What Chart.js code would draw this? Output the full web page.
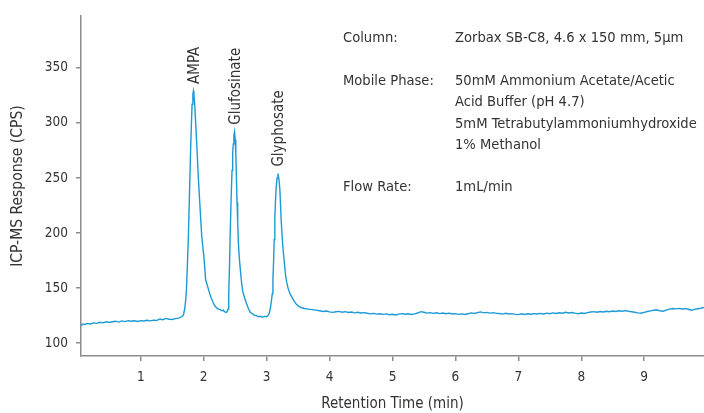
<!DOCTYPE html>
<html>
<head>
<meta charset="utf-8">
<script src="https://cdn.jsdelivr.net/npm/chart.js@4/dist/chart.umd.min.js"></script>
<style>
  html, body { margin: 0; padding: 0; background: #fff; }
  #wrap { width: 704px; height: 413px; position: relative; }
</style>
</head>
<body>
<div id="wrap"><canvas id="chromatogram"></canvas></div>
<script>
/* ================= DATA ================= */
// [retention time (min), response (CPS)]
const baselineStart = [
  [0.05,116],[0.08,117.5],[0.11,117],[0.15,118],[0.2,117.5],[0.25,118.5],[0.3,118],
  [0.35,119],[0.4,118.5],[0.45,119.5],[0.5,118.8],[0.55,119.5],[0.6,120],[0.65,119.2],
  [0.7,120.3],[0.75,119.6],[0.8,120.5],[0.85,120],[0.9,120.4],[0.95,119.8],[1.0,120.5],
  [1.05,120.2],[1.1,120.8],[1.15,120.3],[1.2,121],[1.25,120.6],[1.3,122],[1.35,121.3],
  [1.4,122.5],[1.45,121.8],[1.5,121.5],[1.55,122.3],[1.6,122.8],[1.65,124],[1.68,126]
];

const ampaPeak = [
  [1.70,132],[1.715,140],[1.725,148],[1.74,170],[1.757,198],[1.775,238],[1.79,272],
  [1.805,300],[1.815,317],[1.828,326],[1.836,329],[1.845,325],[1.857,317],[1.875,297],
  [1.894,275],[1.915,250],[1.937,228],[1.953,212],[1.968,198],[1.985,188],[2.0,180],
  [2.015,170],[2.03,158],[2.05,154],[2.07,150],[2.095,145],[2.12,141],[2.15,137],
  [2.175,134],[2.2,132.5],[2.23,131],[2.26,130.5],[2.29,129.5],[2.31,130],[2.335,128.5],
  [2.36,128],[2.375,129],[2.386,131]
];

const glufosinatePeak = [
  [2.395,138],[2.40,145],[2.41,170],[2.42,198],[2.435,230],[2.45,257],[2.46,272],
  [2.47,281],[2.48,289],[2.49,292],[2.50,285],[2.51,272],[2.52,250],[2.53,228],
  [2.54,210],[2.55,192],[2.565,178],[2.58,168],[2.60,156],[2.62,147],[2.65,141],
  [2.68,136],[2.71,131.5],[2.74,128],[2.77,127],[2.80,125.5],[2.84,125],[2.87,124],
  [2.90,124.5],[2.94,123.5],[2.97,124.5],[3.0,124],[3.02,125],[3.04,127],[3.06,132]
];

const glyphosatePeak = [
  [3.075,138],[3.09,145],[3.10,158],[3.11,174],[3.12,194],[3.13,213],[3.14,228],
  [3.15,240],[3.165,250],[3.18,254],[3.195,249],[3.21,240],[3.23,213],[3.245,198],
  [3.26,186],[3.28,174],[3.30,162],[3.32,155],[3.34,150],[3.37,145],[3.41,141],
  [3.44,138],[3.47,135.5],[3.51,133.5],[3.55,132.4],[3.6,131.5],[3.66,131],[3.72,130.5],
  [3.78,130],[3.84,129.5],[3.9,128.8],[3.95,129.3],[4.0,128.5],[4.05,128]
];

const baselineEnd = [
  [4.1,128.6],[4.15,128.9],[4.2,128.2],[4.25,128.7],[4.3,127.9],[4.35,128.3],[4.4,127.6],
  [4.45,128.1],[4.5,127.5],[4.55,127.8],[4.6,127.2],[4.65,126.7],[4.7,127.1],[4.75,126.4],
  [4.8,126.8],[4.85,126.2],[4.9,126.6],[4.95,125.9],[5.0,126.3],[5.05,125.6],[5.1,126.4],
  [5.15,126.9],[5.2,126.3],[5.25,126.8],[5.3,126.1],[5.35,126.7],[5.4,127.4],[5.45,128.7],
  [5.5,128.1],[5.55,127.3],[5.6,127.8],[5.65,127.1],[5.7,127.6],[5.75,126.9],[5.8,127.4],
  [5.85,126.8],[5.9,127.3],[5.95,126.5],[6.0,126.9],[6.05,126.2],[6.1,126.6],[6.15,126.1],
  [6.2,126.8],[6.25,127.5],[6.3,127.0],[6.35,127.8],[6.4,128.4],[6.45,127.6],[6.5,128.0],
  [6.55,127.3],[6.6,127.8],[6.65,127.1],[6.7,127.0],[6.75,126.4],[6.8,127.2],[6.85,126.5],
  [6.9,126.9],[6.95,126.2],[7.0,126.0],[7.05,126.7],[7.1,126.1],[7.15,126.8],[7.2,126.3],
  [7.25,126.9],[7.3,126.5],[7.35,127.1],[7.4,126.6],[7.45,127.3],[7.5,126.8],[7.55,127.5],
  [7.6,127.0],[7.65,127.6],[7.7,127.2],[7.75,128.1],[7.8,127.5],[7.85,127.9],[7.9,127.3],
  [7.95,126.8],[8.0,127.4],[8.05,127.0],[8.1,127.8],[8.15,128.3],[8.2,128.7],[8.25,128.2],
  [8.3,128.8],[8.35,128.4],[8.4,129.0],[8.45,128.6],[8.5,129.3],[8.55,128.8],[8.6,129.5],
  [8.65,129.1],[8.7,129.6],[8.75,129.0],[8.8,128.6],[8.85,128.1],[8.9,127.6],[8.95,127.2],
  [9.0,128.0],[9.05,128.8],[9.1,129.4],[9.15,129.9],[9.2,130.2],[9.25,129.5],[9.3,129.0],
  [9.35,130.0],[9.4,131.0],[9.45,131.5],[9.5,131.2],[9.55,131.6],[9.6,131.1],[9.65,131.4],
  [9.7,130.8],[9.75,129.9],[9.8,130.7],[9.85,131.3],[9.9,131.8],[9.95,132.4]
];

const xTicks = [1, 2, 3, 4, 5, 6, 7, 8, 9];
const yTicks = [100, 150, 200, 250, 300, 350];

const peakNames   = ["AMPA", "Glufosinate", "Glyphosate"];
const peakTimes   = [1.836, 2.49, 3.18];
const peakHeights = [329, 292, 254];

const methodLabels = ["Column:", "Mobile Phase:", "", "", "", "Flow Rate:"];
const methodValues = [
  "Zorbax SB-C8, 4.6 x 150 mm, 5µm",
  "50mM Ammonium Acetate/Acetic",
  "Acid Buffer (pH 4.7)",
  "5mM Tetrabutylammoniumhydroxide",
  "1% Methanol",
  "1mL/min"
];
const methodRowsY = [38, 81, 102.5, 124, 145.5, 187];

/* ================= STYLE ================= */
const FONT = "'DejaVu Sans Condensed', 'Liberation Sans Narrow', sans-serif";
const TEXT = "#333333";
const AXIS = "#8c8c8c";
const TRACE = "#1b9ad6";

Chart.defaults.font.family = FONT;
Chart.defaults.color = TEXT;

const trace = [].concat(baselineStart, ampaPeak, glufosinatePeak, glyphosatePeak, baselineEnd)
  .map(p => ({ x: p[0], y: p[1] }));

// peak names + method box
const labelsPlugin = {
  id: "labels",
  afterDatasetsDraw(chart) {
    const { ctx, scales: { x, y } } = chart;
    ctx.save();
    ctx.fillStyle = TEXT;

    // rotated peak names, just above each apex
    ctx.font = "15px " + FONT;
    ctx.textAlign = "left";
    ctx.textBaseline = "middle";
    peakNames.forEach((name, i) => {
      const px = x.getPixelForValue(peakTimes[i]) + 1.5;
      const py = y.getPixelForValue(peakHeights[i]) - 7;
      ctx.save();
      ctx.translate(px, py);
      ctx.rotate(-Math.PI / 2);
      ctx.fillText(name, 0, 0);
      ctx.restore();
    });

    // method conditions
    ctx.font = "14.6px " + FONT;
    methodRowsY.forEach((ty, i) => {
      if (methodLabels[i]) ctx.fillText(methodLabels[i], 343, ty);
      ctx.fillText(methodValues[i], 455, ty);
    });
    ctx.restore();
  }
};

new Chart(document.getElementById("chromatogram"), {
  type: "line",
  data: {
    datasets: [{
      data: trace,
      borderColor: TRACE,
      borderWidth: 1.4,
      pointRadius: 0,
      tension: 0,
      fill: false
    }]
  },
  options: {
    responsive: true,
    maintainAspectRatio: false,
    animation: false,
    parsing: false,
    layout: { padding: { top: 10, right: 0, left: 0, bottom: 0 } },
    plugins: {
      legend: { display: false },
      tooltip: { enabled: false }
    },
    scales: {
      x: {
        type: "linear",
        min: 0.05,
        max: 9.95,
        afterBuildTicks: s => { s.ticks = xTicks.map(v => ({ value: v })); },
        afterFit: s => { s.height = 57; },
        grid: { drawOnChartArea: false, drawTicks: true, tickLength: 5, color: AXIS, lineWidth: 1.5 },
        border: { color: AXIS, width: 1.5 },
        ticks: { font: { size: 13.5 }, padding: 8, maxRotation: 0, autoSkip: false },
        title: {
          display: true,
          text: "Retention Time (min)",
          font: { size: 15 },
          padding: { top: 0, bottom: 0 }
        }
      },
      y: {
        type: "linear",
        min: 88.4,
        max: 397,
        afterBuildTicks: s => { s.ticks = yTicks.map(v => ({ value: v })); },
        afterFit: s => { s.width = 81; },
        grid: { drawOnChartArea: false, drawTicks: true, tickLength: 5, color: AXIS, lineWidth: 1.5 },
        border: { color: AXIS, width: 1.5 },
        ticks: { font: { size: 13.5 }, padding: 8 },
        title: {
          display: true,
          text: "ICP-MS Response (CPS)",
          font: { size: 15.5 },
          padding: { top: 9, bottom: 0 }
        }
      }
    }
  },
  plugins: [labelsPlugin]
});
</script>
</body>
</html>
